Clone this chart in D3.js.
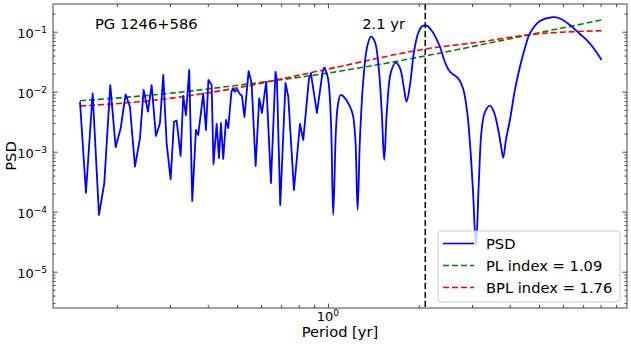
<!DOCTYPE html>
<html>
<head>
<meta charset="utf-8">
<script src="https://cdn.jsdelivr.net/npm/d3@7"></script>
<style>
body { margin: 0; background: #fff; }
text { font-family: "DejaVu Sans", sans-serif; }
</style>
</head>
<body>
<div id="canvas"></div>
<script>
var w = 631;
var h = 344;
var plotL = 53, plotR = 627, plotT = 4, plotB = 308;

// PSD, sparse part (straight segments)
var periodLow = [0.1510,0.1580,0.1663,0.1745,0.1817,0.1902,0.1982,0.2059,0.2138,0.2210,
  0.2296,0.2385,0.2453,0.2535,0.2607,0.2694,0.2778,0.2849,0.2923,0.3014,
  0.3091,0.3155,0.3253,0.3318,0.3387,0.3473,0.3554,0.3655,0.3720,0.3864,
  0.3945,0.4021,0.4120,0.4178,0.4281,0.4357,0.4423,0.4501,0.4595,0.4676,
  0.4791,0.4846,0.4921,0.5008,0.5085,0.5190,0.5290,0.5462,0.5589,0.5762,
  0.5922,0.6046,0.6247,0.6476,0.6702,0.6778,0.6952,0.7235,0.7390,0.7718,
  0.8080,0.8285,0.8651,0.8784,0.9196,0.9604,0.9737];
var psdLow = [6.82e-3,2.07e-4,9.41e-3,8.82e-5,2.98e-4,1.29e-2,1.19e-3,2.46e-3,9.06e-3,5.63e-3,
  5.63e-4,1.67e-3,1.07e-2,4.65e-3,1.29e-2,1.83e-3,2.98e-3,1.90e-2,1.38e-3,3.47e-4,
  3.16e-3,3.29e-3,8.49e-4,8.49e-3,4.09e-3,2.30e-2,1.51e-4,2.30e-3,1.90e-3,9.41e-3,
  2.30e-3,1.57e-2,1.29e-2,6.24e-4,2.90e-3,7.85e-4,2.98e-3,7.57e-4,3.38e-3,2.48e-3,
  9.89e-3,1.14e-2,1.00e-2,1.10e-2,9.41e-3,8.49e-3,3.79e-3,2.21e-2,1.38e-2,5.78e-4,
  7.77e-3,4.42e-3,1.47e-2,3.01e-4,2.13e-2,1.57e-2,1.29e-4,1.40e-2,8.26e-3,2.30e-4,
  2.90e-3,1.57e-3,1.63e-2,2.03e-2,4.42e-3,2.16e-2,2.58e-2];

// PSD, smooth part
var periodHigh = [0.9737,1.000,1.023,1.041,1.063,1.079,1.102,1.138,1.183,1.210,1.233,
  1.254,1.276,1.306,1.346,1.388,1.431,1.475,1.509,1.536,1.568,
  1.617,1.676,1.732,1.785,1.822,1.869,1.927,1.986,2.048,2.122,
  2.210,2.349,2.440,2.535,2.701,2.799,2.886,2.953,3.021,3.091,
  3.162,3.228,3.311,3.439,3.546,3.664,3.740,3.806,3.885,4.005,
  4.161,4.323,4.492,4.666,5.035,5.504,5.865,6.328,6.830,7.189,
  7.656,8.057];
var psdHigh = [2.58e-2,1.69e-2,3.38e-3,8.82e-5,2.30e-3,6.01e-3,8.81e-3,7.85e-3,5.63e-3,4.09e-3,1.57e-3,
  1.07e-4,1.57e-3,1.29e-2,5.36e-2,8.26e-2,6.74e-2,2.30e-2,4.09e-3,7.28e-4,4.96e-3,
  2.13e-2,3.05e-2,2.48e-2,1.15e-2,6.82e-3,1.29e-2,4.59e-2,9.16e-2,0.122,0.126,
  0.103,5.62e-2,3.13e-2,2.16e-2,1.67e-2,1.15e-2,4.96e-3,1.40e-3,2.30e-4,2.79e-5,
  3.38e-4,2.30e-3,4.59e-3,5.85e-3,4.59e-3,2.30e-3,1.29e-3,7.95e-4,1.57e-3,3.38e-3,
  1.07e-2,2.61e-2,5.36e-2,9.42e-2,0.151,0.174,0.166,0.129,9.16e-2,7.28e-2,
  4.96e-2,3.38e-2];

// power law fit
var plPeriod = [0.151,0.2778,0.5085,1.015,2.177,4.323,8.057];
var plPsd = [7.08e-3,9.06e-3,1.29e-2,2.07e-2,4.09e-2,8.26e-2,0.157];

// bending power law fit
var bplPeriod = [0.151,0.2574,0.4736,0.990,2.177,3.186,4.549,8.057];
var bplPsd = [5.78e-3,7.08e-3,1.10e-2,2.36e-2,5.29e-2,6.74e-2,8.81e-2,0.104];

var peakPeriod = 2.1;
var xMajor = [1];
var xMinor = [0.2,0.3,0.4,0.5,0.6,0.7,0.8,0.9,2,3,4,5,6,7,8,9];
var yMajor = [1e-5,1e-4,1e-3,1e-2,1e-1];
var yExp = ["\u22125","\u22124","\u22123","\u22122","\u22121"];
var yMinor = [3e-6,4e-6,5e-6,6e-6,7e-6,8e-6,9e-6];
[1e-5,1e-4,1e-3,1e-2].forEach(function(d){
  for (var k = 2; k <= 9; k++) yMinor.push(d * k);
});
yMinor.push(0.2);

var legendData = [
  { label: "PSD", color: "#0000ff", dash: null },
  { label: "PL index = 1.09", color: "#008000", dash: "6,3" },
  { label: "BPL index = 1.76", color: "#ff0000", dash: "6,3" }
];

var canvas = d3.select("#canvas")
  .append("svg")
  .attr("width", w)
  .attr("height", h)
  .style("background-color", "white");

var xScale = d3.scaleLog()
  .domain([0.1229, 9.78])
  .range([plotL, plotR]);

var yScale = d3.scaleLog()
  .domain([2.483e-6, 0.2897])
  .range([plotB, plotT]);

canvas.append("defs").append("clipPath").attr("id", "clip")
  .append("rect")
  .attr("x", plotL).attr("y", plotT)
  .attr("width", plotR - plotL).attr("height", plotB - plotT);

var plot = canvas.append("g").attr("clip-path", "url(#clip)");

var line = d3.line()
  .x(function(d) { return xScale(d[0]); })
  .y(function(d) { return yScale(d[1]); });

// model curves
plot.append("path")
  .datum(d3.zip(plPeriod, plPsd))
  .attr("fill", "none")
  .attr("stroke", "#008000")
  .attr("stroke-width", 1.6)
  .attr("stroke-dasharray", "6,3")
  .attr("d", line.curve(d3.curveMonotoneX));

plot.append("path")
  .datum(d3.zip(bplPeriod, bplPsd))
  .attr("fill", "none")
  .attr("stroke", "#ff0000")
  .attr("stroke-width", 1.6)
  .attr("stroke-dasharray", "6,3")
  .attr("d", line.curve(d3.curveMonotoneX));

// PSD
plot.append("path")
  .datum(d3.zip(periodLow, psdLow))
  .attr("fill", "none")
  .attr("stroke", "#0000ff")
  .attr("stroke-width", 1.8)
  .attr("stroke-linejoin", "round")
  .attr("d", line.curve(d3.curveLinear));

plot.append("path")
  .datum(d3.zip(periodHigh, psdHigh))
  .attr("fill", "none")
  .attr("stroke", "#0000ff")
  .attr("stroke-width", 1.8)
  .attr("d", line.curve(d3.curveCatmullRom.alpha(0.5)));

// period marker
plot.append("line")
  .attr("x1", xScale(peakPeriod)).attr("x2", xScale(peakPeriod))
  .attr("y1", plotT).attr("y2", plotB)
  .attr("stroke", "black")
  .attr("stroke-width", 1.5)
  .attr("stroke-dasharray", "6,3");

canvas.append("text")
  .attr("x", xScale(peakPeriod) - 63)
  .attr("y", 29)
  .style("font-size", "14.7px")
  .text(peakPeriod + " yr");

canvas.append("text")
  .attr("x", 95)
  .attr("y", 29)
  .style("font-size", "14.7px")
  .text("PG 1246+586");

// axes: ticks pointing in on all four sides
function styleAxis(g) {
  g.select(".domain").remove();
  g.selectAll("line").attr("stroke", "#444");
}
canvas.append("g").attr("transform", "translate(0," + plotB + ")")
  .call(d3.axisBottom(xScale).tickValues(xMajor).tickSize(-4.5).tickFormat("")).call(styleAxis);
canvas.append("g").attr("transform", "translate(0," + plotB + ")")
  .call(d3.axisBottom(xScale).tickValues(xMinor).tickSize(-3).tickFormat("")).call(styleAxis);
canvas.append("g").attr("transform", "translate(0," + plotT + ")")
  .call(d3.axisTop(xScale).tickValues(xMajor).tickSize(-4.5).tickFormat("")).call(styleAxis);
canvas.append("g").attr("transform", "translate(0," + plotT + ")")
  .call(d3.axisTop(xScale).tickValues(xMinor).tickSize(-3).tickFormat("")).call(styleAxis);
canvas.append("g").attr("transform", "translate(" + plotL + ",0)")
  .call(d3.axisLeft(yScale).tickValues(yMajor).tickSize(-4.5).tickFormat("")).call(styleAxis);
canvas.append("g").attr("transform", "translate(" + plotL + ",0)")
  .call(d3.axisLeft(yScale).tickValues(yMinor).tickSize(-2.5).tickFormat("")).call(styleAxis);
canvas.append("g").attr("transform", "translate(" + plotR + ",0)")
  .call(d3.axisRight(yScale).tickValues(yMajor).tickSize(-4.5).tickFormat("")).call(styleAxis);
canvas.append("g").attr("transform", "translate(" + plotR + ",0)")
  .call(d3.axisRight(yScale).tickValues(yMinor).tickSize(-2.5).tickFormat("")).call(styleAxis);

canvas.append("rect")
  .attr("x", plotL).attr("y", plotT)
  .attr("width", plotR - plotL).attr("height", plotB - plotT)
  .attr("fill", "none")
  .attr("stroke", "#444")
  .attr("stroke-width", 1);

// tick labels
var xl = canvas.append("text")
  .attr("x", xScale(xMajor[0]))
  .attr("y", 321)
  .attr("text-anchor", "middle")
  .style("font-size", "13px");
xl.append("tspan").text("10");
xl.append("tspan").attr("dy", -5).style("font-size", "9px").text("0");

yMajor.forEach(function(d, i) {
  var t = canvas.append("text")
    .attr("x", 47)
    .attr("y", yScale(d) + 6)
    .attr("text-anchor", "end")
    .style("font-size", "13px");
  t.append("tspan").text("10");
  t.append("tspan").attr("dy", -5).style("font-size", "9px").text(yExp[i]);
});

canvas.append("text")
  .attr("x", (plotL + plotR) / 2)
  .attr("y", 337)
  .attr("text-anchor", "middle")
  .style("font-size", "14.7px")
  .text("Period [yr]");

canvas.append("text")
  .attr("transform", "rotate(-90)")
  .attr("x", -(plotT + plotB) / 2)
  .attr("y", 16)
  .attr("text-anchor", "middle")
  .style("font-size", "14.7px")
  .text("PSD");

// legend
var legend = canvas.append("g").attr("transform", "translate(438,231)");
legend.append("rect")
  .attr("width", 182).attr("height", 71)
  .attr("rx", 3)
  .attr("fill", "white").attr("fill-opacity", 0.8)
  .attr("stroke", "#cccccc");
var items = legend.selectAll("g.item")
  .data(legendData)
  .join("g")
  .attr("class", "item")
  .attr("transform", function(d, i) { return "translate(0," + (12.5 + i * 22) + ")"; });
items.append("line")
  .attr("x1", 5).attr("x2", 36)
  .attr("stroke", function(d) { return d.color; })
  .attr("stroke-width", 1.6)
  .attr("stroke-dasharray", function(d) { return d.dash; });
items.append("text")
  .attr("x", 48).attr("y", 5.5)
  .style("font-size", "14.7px")
  .text(function(d) { return d.label; });
</script>
</body>
</html>
